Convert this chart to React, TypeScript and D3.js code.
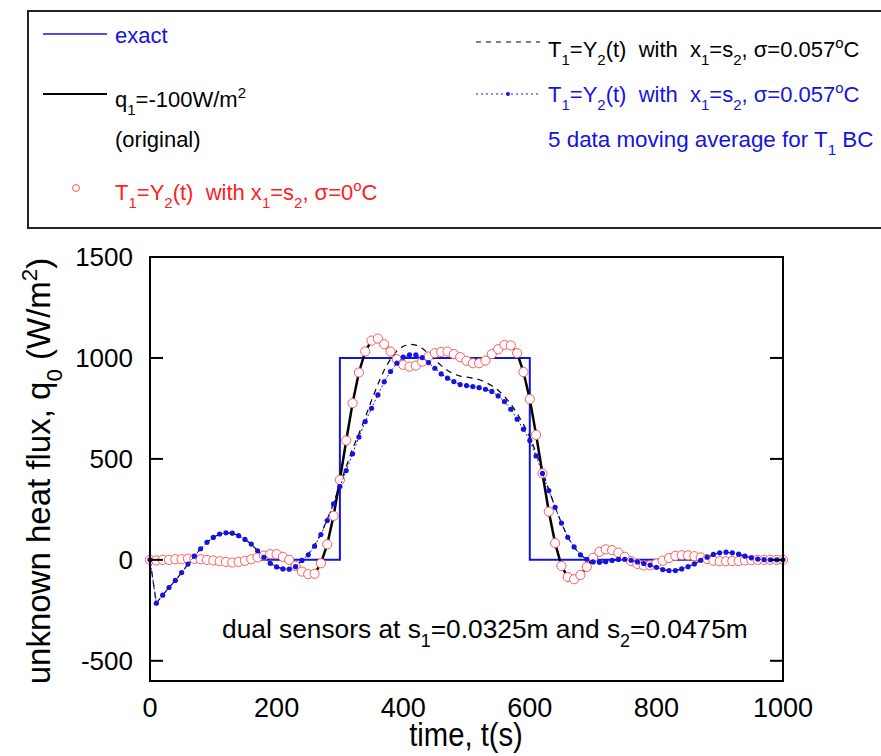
import React from 'react'
import * as d3 from 'd3'

// time axis, every 10 s
const times = d3.range(0, 1001, 10)

// exact step of the unknown heat flux
const exactTimes = [0, 300, 300, 600, 600, 1000]
const exactFlux = [0, 0, 1000, 1000, 0, 0]

// T1=Y2(t), sigma=0 (red circles, black line follows it)
const cleanFlux = [
  0, -3, 0, 0, 3, 3, 6, 5, 3, 0,
  -3, -7, -10, -13, -10, -5, 3, 12, 21, 28,
  28, 15, 0, -30, -58, -71, -69, -17, 77, 218,
  396, 591, 776, 928, 1032, 1086, 1096, 1068, 1032, 994,
  966, 957, 962, 982, 1007, 1024, 1030, 1032, 1019, 1004,
  986, 974, 974, 987, 1019, 1043, 1065, 1062, 1024, 930,
  796, 619, 428, 239, 83, -30, -85, -96, -75, -35,
  10, 40, 52, 48, 36, 15, -6, -20, -28, -27,
  -18, -4, 9, 20, 23, 22, 18, 12, 4, -4,
  -7, -7, -6, -6, -3, -1, 0, 0, 0, 0,
  0,
]

// T1=Y2(t), sigma=0.057 (black dashed)
const noisyFlux = [
  0, -215, -175, -137, -102, -63, -21, 18, 55, 87,
  111, 128, 134, 132, 120, 101, 78, 45, 13, -17,
  -35, -45, -46, -34, -3, 27, 72, 130, 200, 282,
  372, 462, 550, 625, 705, 790, 870, 940, 995, 1035,
  1058, 1068, 1064, 1048, 1022, 992, 962, 938, 920, 910,
  905, 900, 893, 880, 862, 840, 810, 772, 725, 672,
  610, 530, 440, 348, 262, 182, 112, 62, 24, 2,
  -10, -12, -9, -3, 2, 3, -2, -10, -18, -26,
  -37, -48, -53, -53, -45, -34, -20, -2, 13, 27,
  35, 38, 35, 28, 18, 10, 4, 1, 0, 0,
  0,
]

// same with 5 data moving average (blue dots)
const averagedFlux = [
  0, -215, -175, -137, -102, -63, -21, 18, 55, 87,
  111, 128, 134, 132, 120, 101, 78, 45, 13, -17,
  -35, -45, -46, -34, -3, 25, 68, 125, 195, 277,
  363, 442, 525, 608, 685, 751, 817, 882, 933, 974,
  1004, 1015, 1015, 1002, 977, 949, 921, 900, 883, 868,
  863, 858, 853, 845, 834, 812, 784, 746, 697, 647,
  591, 515, 428, 343, 260, 182, 112, 64, 25, 3,
  -10, -12, -9, -3, 2, 3, -2, -10, -18, -26,
  -37, -48, -53, -53, -45, -34, -20, -2, 13, 27,
  35, 38, 35, 28, 18, 10, 4, 1, 0, 0,
  0,
]

const yTicks = [-500, 0, 500, 1000, 1500]
const xTicks = [0, 200, 400, 600, 800, 1000]

const BLUE = '#1414e0'
const RED = '#ff2020'
const FONT = 'Liberation Sans, Arial, sans-serif'

type Part = [string, 'n' | 'sub' | 'sup']

// text with sub/superscripts
function rich(parts: Part[], size: number) {
  let cur = 0
  return parts.map(([s, k], i) => {
    const target = k === 'sub' ? size * 0.36 : k === 'sup' ? -size * 0.4 : 0
    const dy = target - cur
    cur = target
    return (
      <tspan key={i} dy={dy} fontSize={k === 'n' ? size : size * 0.68}>
        {s}
      </tspan>
    )
  })
}

const App = () => {
  const left = 150, right = 783, top = 257, bottom = 681
  const x = d3.scaleLinear().domain([0, 1000]).range([left, right])
  const y = d3.scaleLinear().domain([-600, 1500]).range([bottom, top])

  const line = d3.line<[number, number]>().x(d => x(d[0])).y(d => y(d[1]))
  const pts = (vals: number[]) => times.map((t, i) => [t, vals[i]] as [number, number])
  const exactPts = exactTimes.map((t, i) => [t, exactFlux[i]] as [number, number])

  const legendSize = 22

  return (
    <svg width={881} height={756} style={{ position: 'absolute', left: 0, top: 0, background: '#fff' }}
      fontFamily={FONT}>
      <rect x={0} y={0} width={881} height={756} fill='#fff' />

      {/* legend box */}
      <rect x={28} y={11} width={900} height={217} fill='none' stroke='#222' strokeWidth={2} />
      <line x1={43} x2={107} y1={34} y2={34} stroke={BLUE} strokeWidth={1.5} />
      <text x={115} y={43} fill={BLUE} fontSize={legendSize}>exact</text>
      <line x1={43} x2={107} y1={94} y2={94} stroke='#000' strokeWidth={2} />
      <text x={115} y={107} fill='#000' style={{ whiteSpace: 'pre' }}>
        {rich([['q', 'n'], ['1', 'sub'], ['=-100W/m', 'n'], ['2', 'sup']], legendSize)}
      </text>
      <text x={115} y={147} fill='#000' fontSize={legendSize}>(original)</text>
      <circle cx={76} cy={188} r={3.5} fill='#fff' stroke='#ff5a5a' strokeWidth={1} />
      <text x={115} y={200} fill={RED} style={{ whiteSpace: 'pre' }}>
        {rich([['T', 'n'], ['1', 'sub'], ['=Y', 'n'], ['2', 'sub'], ['(t)  with x', 'n'], ['1', 'sub'],
          ['=s', 'n'], ['2', 'sub'], [', σ=0', 'n'], ['o', 'sup'], ['C', 'n']], legendSize)}
      </text>

      <line x1={476} x2={540} y1={42} y2={42} stroke='#000' strokeWidth={1} strokeDasharray='5,5' />
      <text x={548} y={57} fill='#000' style={{ whiteSpace: 'pre' }}>
        {rich([['T', 'n'], ['1', 'sub'], ['=Y', 'n'], ['2', 'sub'], ['(t)  with  x', 'n'], ['1', 'sub'],
          ['=s', 'n'], ['2', 'sub'], [', σ=0.057', 'n'], ['o', 'sup'], ['C', 'n']], legendSize)}
      </text>
      <line x1={476} x2={540} y1={94} y2={94} stroke={BLUE} strokeWidth={1} strokeDasharray='2,3' />
      <circle cx={508} cy={94} r={2} fill={BLUE} />
      <text x={548} y={102} fill={BLUE} style={{ whiteSpace: 'pre' }}>
        {rich([['T', 'n'], ['1', 'sub'], ['=Y', 'n'], ['2', 'sub'], ['(t)  with  x', 'n'], ['1', 'sub'],
          ['=s', 'n'], ['2', 'sub'], [', σ=0.057', 'n'], ['o', 'sup'], ['C', 'n']], legendSize)}
      </text>
      <text x={548} y={147} fill={BLUE} style={{ whiteSpace: 'pre' }}>
        {rich([['5 data moving average for T', 'n'], ['1', 'sub'], [' BC', 'n']], 22.4)}
      </text>

      {/* series */}
      <path d={line(exactPts) || ''} fill='none' stroke={BLUE} strokeWidth={2} />
      <path d={line(pts(cleanFlux)) || ''} fill='none' stroke='#000' strokeWidth={2.5} />
      <path d={line(pts(noisyFlux)) || ''} fill='none' stroke='#000' strokeWidth={1.2} strokeDasharray='6,5' />
      {times.map((t, i) => (
        <circle key={'c' + t} cx={x(t)} cy={y(cleanFlux[i])} r={4.6} fill='#fff' stroke='#ff5a5a' strokeWidth={1} />
      ))}
      <path d={line(pts(averagedFlux)) || ''} fill='none' stroke={BLUE} strokeWidth={1} strokeDasharray='2,2' />
      {times.map((t, i) => (
        <circle key={'b' + t} cx={x(t)} cy={y(averagedFlux[i])} r={2.6} fill={BLUE} />
      ))}

      {/* frame and ticks */}
      <rect x={left} y={top} width={right - left} height={bottom - top} fill='none' stroke='#000' strokeWidth={2} />
      {yTicks.map(v => (
        <g key={'yt' + v}>
          <line x1={left} x2={left + 13} y1={y(v)} y2={y(v)} stroke='#000' strokeWidth={2} />
          <line x1={right} x2={right - 13} y1={y(v)} y2={y(v)} stroke='#000' strokeWidth={2} />
          <text x={133} y={y(v) + 9} textAnchor='end' fontSize={26}>{v}</text>
        </g>
      ))}
      {xTicks.map(v => (
        <text key={'xt' + v} transform={`translate(${x(v)},717) scale(0.95,1)`} textAnchor='middle' fontSize={28.5}>{v}</text>
      ))}

      {/* annotation */}
      <text x={222} y={638} fill='#000' style={{ whiteSpace: 'pre' }}>
        {rich([['dual sensors at s', 'n'], ['1', 'sub'], ['=0.0325m and s', 'n'], ['2', 'sub'], ['=0.0475m', 'n']], 26.3)}
      </text>

      {/* axis titles */}
      <text transform='translate(466,746) scale(0.86,1)' textAnchor='middle' fontSize={34}>time, t(s)</text>
      <text transform='translate(50,471) rotate(-90)' textAnchor='middle' style={{ whiteSpace: 'pre' }}>
        {rich([['unknown heat flux, q', 'n'], ['0', 'sub'], [' (W/m', 'n'], ['2', 'sup'], [')', 'n']], 33)}
      </text>
    </svg>
  )
}

export default App
